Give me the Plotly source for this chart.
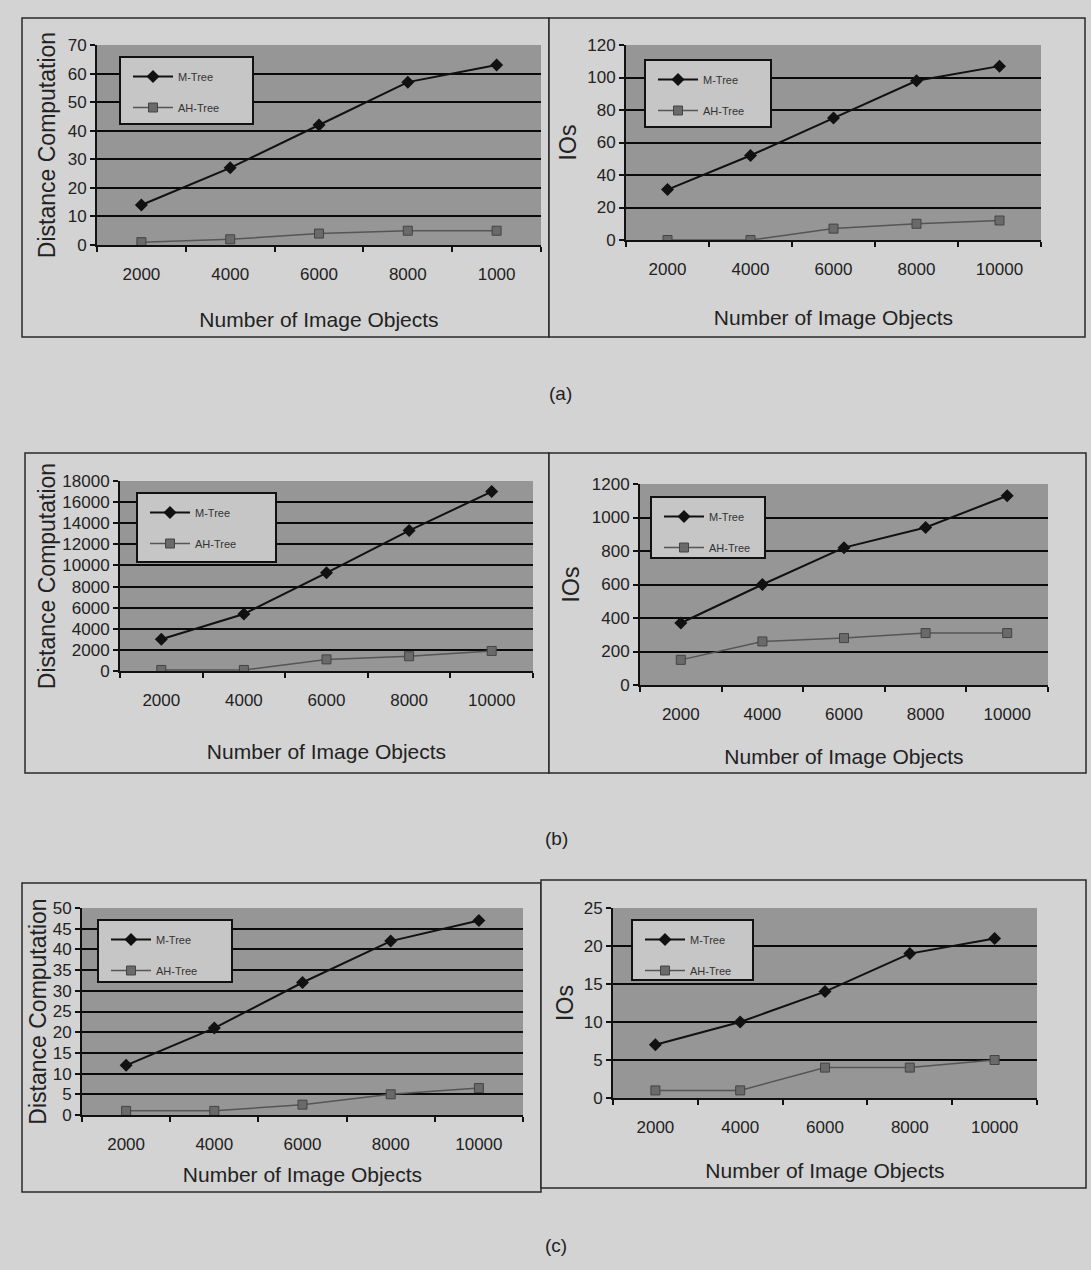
import plotly.graph_objects as go

# ---------------- data ----------------
categories = ["2000", "4000", "6000", "8000", "10000"]
a_left_labels = ["2000", "4000", "6000", "8000", "1000"]   # label as printed in the source

a_left_mtree = [14, 27, 42, 57, 63]
a_left_ahtree = [1, 2, 4, 5, 5]
a_right_mtree = [31, 52, 75, 98, 107]
a_right_ahtree = [0, 0, 7, 10, 12]

b_left_mtree = [3000, 5400, 9300, 13300, 17000]
b_left_ahtree = [100, 100, 1100, 1400, 1900]
b_right_mtree = [370, 600, 820, 940, 1130]
b_right_ahtree = [150, 260, 280, 310, 310]

c_left_mtree = [12, 21, 32, 42, 47]
c_left_ahtree = [1, 1, 2.5, 5, 6.5]
c_right_mtree = [7, 10, 14, 19, 21]
c_right_ahtree = [1, 1, 4, 4, 5]

series_names = ["M-Tree", "AH-Tree"]
x_title = "Number of Image Objects"
y_titles = ["Distance Computation", "IOs"]
captions = ["(a)", "(b)", "(c)"]

W, H = 1091, 1270
FONT = "Liberation Sans, Arial, sans-serif"
PAGE_BG = "#d3d3d3"
PLOT_BG = "#969696"


def px(x):
    return x / W


def py(y):
    return 1 - y / H


# panels: (xcats, mtree, ahtree, ytitle, yrange, dtick,
#          plot box px (x0, x1, y0, y1), legend box px, panel box px, y standoff, x standoff)
panels = [
    (a_left_labels, a_left_mtree, a_left_ahtree, y_titles[0], 70, 10,
     (97, 541, 45, 245), (120, 253, 57, 124), (22, 549, 18, 337), 6, 29),
    (categories, a_right_mtree, a_right_ahtree, y_titles[1], 120, 20,
     (626, 1041, 45, 240), (645, 771, 60, 127), (549, 1085, 18, 337), 4, 32),
    (categories, b_left_mtree, b_left_ahtree, y_titles[0], 18000, 2000,
     (120, 533, 481, 671), (137, 276, 493, 562), (25, 549, 453, 773), 0, 35),
    (categories, b_right_mtree, b_right_ahtree, y_titles[1], 1200, 200,
     (640, 1048, 484, 685), (651, 765, 497, 558), (549, 1086, 453, 773), 6, 26),
    (categories, c_left_mtree, c_left_ahtree, y_titles[0], 50, 5,
     (82, 523, 908, 1115), (98, 232, 920, 982), (22, 541, 883, 1192), 0, 14),
    (categories, c_right_mtree, c_right_ahtree, y_titles[1], 25, 5,
     (613, 1037, 908, 1098), (632, 753, 920, 980), (541, 1086, 880, 1188), 4, 27),
]

fig = go.Figure()
layout = dict(
    width=W, height=H,
    margin=dict(l=0, r=0, t=0, b=0),
    paper_bgcolor=PAGE_BG,
    plot_bgcolor=PLOT_BG,
    font=dict(family=FONT, color="#1e1e1e", size=17),
    showlegend=True,
    shapes=[], annotations=[],
)

for i, (xc, mt, ah, ytitle, ymax, dtick, box, lbox, pbox, ystand, xstand) in enumerate(panels):
    n = "" if i == 0 else str(i + 1)
    xa, ya = "x" + n, "y" + n
    leg = "legend" + n
    x0, x1, y0, y1 = box

    # panel frame and plot area background
    layout["shapes"].append(dict(type="rect", xref="paper", yref="paper",
                                 x0=px(pbox[0]), x1=px(pbox[1]), y0=py(pbox[3]), y1=py(pbox[2]),
                                 line=dict(color="#2a2a2a", width=1.5), fillcolor=PAGE_BG, layer="below"))
    layout["shapes"].append(dict(type="rect", xref="paper", yref="paper",
                                 x0=px(x0), x1=px(x1), y0=py(y1), y1=py(y0),
                                 line=dict(width=0), fillcolor=PLOT_BG, layer="below"))
    # legend frame
    layout["shapes"].append(dict(type="rect", xref="paper", yref="paper",
                                 x0=px(lbox[0]), x1=px(lbox[1]), y0=py(lbox[3]), y1=py(lbox[2]),
                                 line=dict(color="#111", width=2), fillcolor="#c6c6c6", layer="above"))

    fig.add_trace(go.Scatter(
        x=xc, y=mt, name=series_names[0], mode="lines+markers",
        xaxis=xa, yaxis=ya, legend=leg, legendgroup="m" + n,
        line=dict(color="#111111", width=2),
        marker=dict(symbol="diamond", size=10, color="#111111")))
    fig.add_trace(go.Scatter(
        x=xc, y=ah, name=series_names[1], mode="lines+markers",
        xaxis=xa, yaxis=ya, legend=leg, legendgroup="a" + n,
        line=dict(color="#555555", width=1.5),
        marker=dict(symbol="square", size=9, color="#6a6a6a",
                    line=dict(color="#444", width=1))))

    layout["xaxis" + n] = dict(
        domain=[px(x0), px(x1)], anchor=ya, type="category",
        categoryorder="array", categoryarray=xc,
        range=[-0.5, 4.5], fixedrange=True,
        tickson="boundaries", ticks="outside", ticklen=5, tickwidth=2, tickcolor="#111",
        showline=True, linecolor="#111", linewidth=2, showgrid=False,
        tickfont=dict(size=17, color="#222"), ticklabelstandoff=13,
        title=dict(text=x_title, font=dict(size=21, color="#222"), standoff=xstand),
        automargin=False,
    )
    layout["yaxis" + n] = dict(
        domain=[py(y1), py(y0)], anchor=xa,
        range=[0, ymax], dtick=dtick, tick0=0, tickformat="d",
        ticks="outside", ticklen=5, tickwidth=2, tickcolor="#111",
        showline=True, linecolor="#111", linewidth=2,
        showgrid=True, gridcolor="#0a0a0a", gridwidth=2,
        zeroline=False, fixedrange=True,
        tickfont=dict(size=17, color="#222"),
        title=dict(text=ytitle, font=dict(size=23, color="#222"), standoff=ystand),
        automargin=False,
    )
    layout[leg] = dict(
        x=px(lbox[0] + 8), y=py(lbox[2] + 5), xanchor="left", yanchor="top",
        bgcolor="rgba(0,0,0,0)", borderwidth=0,
        font=dict(size=11, color="#333"), tracegroupgap=12,
        itemwidth=40, traceorder="grouped",
    )

caption_pos = [(560, 393), (556, 838), (556, 1245)]
for text, (cx, cy) in zip(captions, caption_pos):
    layout["annotations"].append(dict(text=text, xref="paper", yref="paper",
                                      x=px(cx), y=py(cy), xanchor="center", yanchor="middle",
                                      showarrow=False, font=dict(size=19, color="#222")))

fig.update_layout(**layout)
fig.write_html("out.html",
               config={"displayModeBar": False},
               post_script="document.body.style.margin='0';document.body.style.overflow='hidden';")
